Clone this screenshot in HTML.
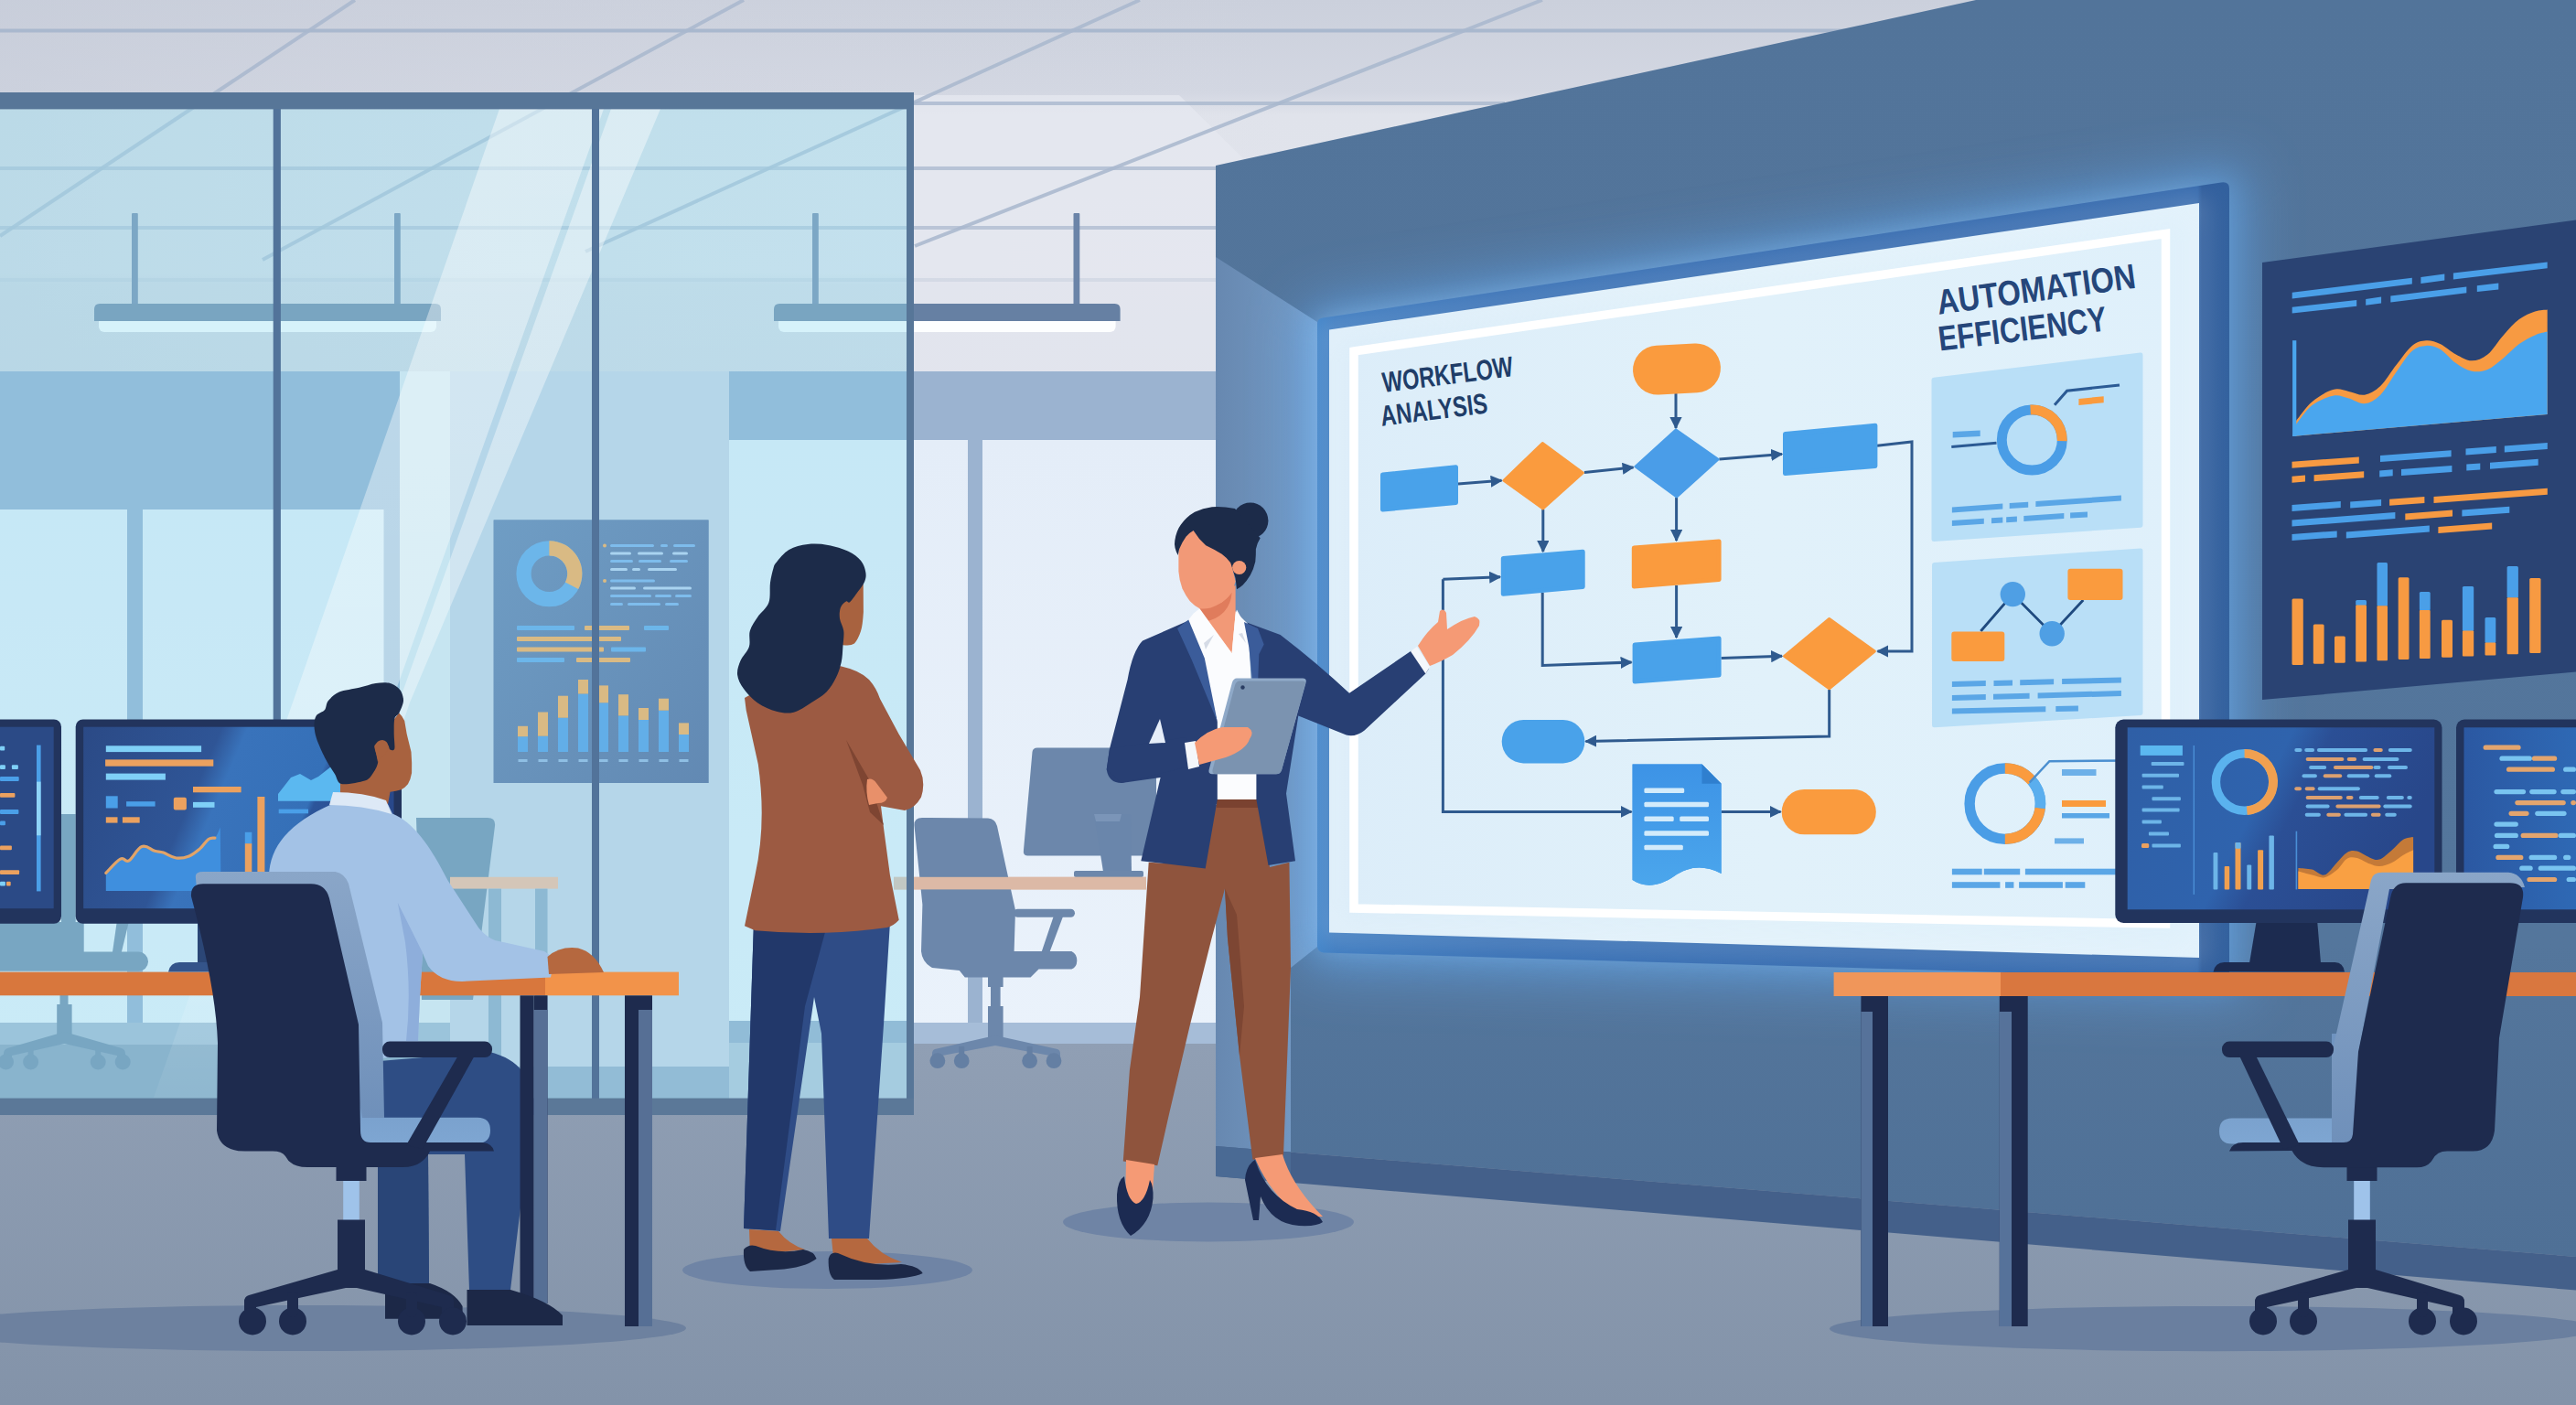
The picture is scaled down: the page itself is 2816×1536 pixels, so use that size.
<!DOCTYPE html>
<html lang="en"><head><meta charset="utf-8"><title>Workflow Analysis - Automation Efficiency</title>
<style>
html,body{margin:0;padding:0;background:#8c9bb1;}
body{width:2816px;height:1536px;overflow:hidden;}
svg{display:block;}
text{font-family:"Liberation Sans",sans-serif;font-weight:bold;}
</style></head><body>
<svg width="2816" height="1536" viewBox="0 0 2816 1536">
<defs>
<linearGradient id="gCeil" x1="0" y1="0" x2="0" y2="1">
<stop offset="0" stop-color="#cbd0dc"/><stop offset="0.24" stop-color="#d3d7e2"/>
<stop offset="0.30" stop-color="#e0e3eb"/><stop offset="0.71" stop-color="#e2e4ed"/><stop offset="0.74" stop-color="#d9dbe6"/><stop offset="1" stop-color="#d6d8e4"/></linearGradient>
<linearGradient id="gCeilX" x1="0" y1="0" x2="1" y2="0">
<stop offset="0" stop-color="#c6ccd9" stop-opacity="0.55"/><stop offset="0.5" stop-color="#d6dae4" stop-opacity="0"/></linearGradient>
<linearGradient id="gFloor" x1="0" y1="0" x2="0" y2="1">
<stop offset="0" stop-color="#909fb4"/><stop offset="1" stop-color="#8393a9"/></linearGradient>
<linearGradient id="gWin" x1="0" y1="0" x2="0" y2="1">
<stop offset="0" stop-color="#e4edf8"/><stop offset="1" stop-color="#eaf2fb"/></linearGradient>
<linearGradient id="gRefl" x1="0" y1="0" x2="0" y2="1">
<stop offset="0" stop-color="#ffffff" stop-opacity="0.42"/><stop offset="0.6" stop-color="#ffffff" stop-opacity="0.36"/><stop offset="1" stop-color="#ffffff" stop-opacity="0.05"/></linearGradient>

<linearGradient id="gPoster" x1="0" y1="0" x2="1" y2="1"><stop offset="0" stop-color="#6f9dc4"/><stop offset="1" stop-color="#6289b3"/></linearGradient>
<linearGradient id="gWall" x1="0" y1="0" x2="0" y2="1">
<stop offset="0" stop-color="#52749a"/><stop offset="0.75" stop-color="#54769c"/><stop offset="1" stop-color="#4f7096"/></linearGradient>
<linearGradient id="gSide" x1="0" y1="0" x2="1" y2="0">
<stop offset="0" stop-color="#6788b0"/><stop offset="0.7" stop-color="#7196c0"/><stop offset="1" stop-color="#7ea6d0"/></linearGradient>
<filter id="blur30" x="-20%" y="-20%" width="140%" height="140%"><feGaussianBlur stdDeviation="30"/></filter>
<filter id="blur14" x="-20%" y="-20%" width="140%" height="140%"><feGaussianBlur stdDeviation="14"/></filter>
<clipPath id="clipWall"><polygon points="1329,181 2160,0 2816,0 2816,1374 1329,1253"/></clipPath>

<linearGradient id="gFrame" x1="0" y1="0" x2="1" y2="0">
<stop offset="0" stop-color="#4486ca"/><stop offset="0.02" stop-color="#3f7cc0"/><stop offset="0.2" stop-color="#3a72b6"/><stop offset="0.6" stop-color="#376cb0"/><stop offset="0.965" stop-color="#366aad"/><stop offset="0.97" stop-color="#2f5d9c"/><stop offset="1" stop-color="#33619e"/></linearGradient>
<linearGradient id="gLit" x1="0" y1="0" x2="1" y2="0">
<stop offset="0" stop-color="#dcedf9"/><stop offset="0.5" stop-color="#e1f1fa"/><stop offset="1" stop-color="#dff0fb"/></linearGradient>
<marker id="ah" viewBox="0 0 10 10" refX="9" refY="5" markerWidth="4.4" markerHeight="4.4" orient="auto-start-reverse" markerUnits="strokeWidth"><path d="M0,0 L10,5 L0,10 z" fill="#2f5a8e"/></marker>
<marker id="ah2" viewBox="0 0 10 10" refX="9" refY="5" markerWidth="6" markerHeight="6" orient="auto-start-reverse" markerUnits="strokeWidth"><path d="M0,0 L10,5 L0,10 z" fill="#2f5a8e"/></marker>

<linearGradient id="gDoc" x1="0" y1="0" x2="0" y2="1"><stop offset="0" stop-color="#3d93e6"/><stop offset="1" stop-color="#4ba6ec"/></linearGradient>
<linearGradient id="gMon" x1="0" y1="0" x2="1" y2="0.25">
<stop offset="0" stop-color="#2b4a86"/><stop offset="0.42" stop-color="#2f5596"/><stop offset="0.5" stop-color="#3973bb"/><stop offset="0.78" stop-color="#3570b8"/><stop offset="0.8" stop-color="#2c559a"/><stop offset="1" stop-color="#29488a"/></linearGradient>
<linearGradient id="gMon3" x1="0" y1="0" x2="1" y2="0.3">
<stop offset="0" stop-color="#2f5fa6"/><stop offset="0.5" stop-color="#2f63ad"/><stop offset="0.62" stop-color="#2b4f95"/><stop offset="1" stop-color="#28478a"/></linearGradient>
<linearGradient id="gMon4" x1="0" y1="0" x2="1" y2="0">
<stop offset="0" stop-color="#2b58a2"/><stop offset="1" stop-color="#2f6cb8"/></linearGradient>
<linearGradient id="gSeat" x1="0" y1="0" x2="0" y2="1">
<stop offset="0" stop-color="#6f93bf"/><stop offset="1" stop-color="#7ea6d2"/></linearGradient>
<linearGradient id="gChairSide" x1="0" y1="0" x2="0" y2="1">
<stop offset="0" stop-color="#8aa6c8"/><stop offset="1" stop-color="#6f90ba"/></linearGradient>

</defs>
<rect x="0" y="0" width="2816" height="420" fill="url(#gCeil)" />
<rect x="0" y="0" width="2816" height="420" fill="url(#gCeilX)" />
<polygon points="999,104 1289,104 1362,176 1329,186 1329,406 999,406" fill="#e6e8f0" opacity="0.75"/>
<line x1="0" y1="33.5" x2="2030" y2="33.5" stroke="#a9b8ce" stroke-width="4" opacity="1"/>
<line x1="999" y1="113" x2="1645" y2="113" stroke="#a9b8ce" stroke-width="4" opacity="0.8"/>
<line x1="0" y1="184" x2="1329" y2="184" stroke="#a9b8ce" stroke-width="4" opacity="0.75"/>
<line x1="0" y1="249" x2="1329" y2="249" stroke="#a9b8ce" stroke-width="4" opacity="0.7"/>
<line x1="0" y1="306" x2="1329" y2="306" stroke="#a9b8ce" stroke-width="4" opacity="0.25"/>
<line x1="388" y1="0" x2="0" y2="258" stroke="#a9b8ce" stroke-width="4" opacity="0.85"/>
<line x1="813" y1="0" x2="287" y2="284" stroke="#a9b8ce" stroke-width="4" opacity="0.85"/>
<line x1="1246" y1="0" x2="640" y2="275" stroke="#a9b8ce" stroke-width="4" opacity="0.85"/>
<line x1="1686" y1="0" x2="1000" y2="269" stroke="#a9b8ce" stroke-width="4" opacity="0.85"/>
<rect x="0" y="406" width="1329" height="735" fill="#c9d2e4" />
<rect x="0" y="406" width="437" height="735" fill="#8da8cd" />
<rect x="437" y="406" width="55" height="735" fill="#e3e8f0" />
<rect x="492" y="406" width="305" height="735" fill="#c7d0e3" />
<rect x="797" y="406" width="532" height="75" fill="#9bb3d0" />
<rect x="797" y="406" width="198" height="75" fill="#8da8cd" />
<rect x="0" y="557" width="139" height="584" fill="url(#gWin)" />
<rect x="156" y="557" width="263.5" height="584" fill="url(#gWin)" />
<rect x="797" y="481" width="261" height="660" fill="url(#gWin)" />
<rect x="1058" y="481" width="16" height="660" fill="#9bb3d0" />
<rect x="1074" y="481" width="255" height="660" fill="url(#gWin)" />
<rect x="0" y="1118" width="1329" height="23" fill="#a6bdd8" />
<rect x="0" y="1141" width="2816" height="395" fill="url(#gFloor)" />
<rect x="0" y="1118" width="991" height="24" fill="#9eb3cc" />
<rect x="0" y="1142" width="991" height="59" fill="#8098b6" />
<rect x="492" y="1110" width="305" height="56" fill="#c7d0e3" />
<rect x="492" y="1166" width="305" height="35" fill="#8fa6c4" />
<rect x="797" y="1116" width="194" height="24" fill="#8da6c6" />
<rect x="797" y="1140" width="194" height="61" fill="#aebfd4" />
<rect x="67" y="890" width="15.7" height="122" fill="#6482a4" />
<rect x="-5" y="1008" width="96.7" height="34" fill="#6482a4" />
<rect x="-12" y="1040.6" width="174" height="21.2" rx="10.5" fill="#6482a4" />
<polygon points="127.7,1008 140.8,1008 132.6,1042 122.8,1042" fill="#6482a4" />
<rect x="65.5" y="1088" width="9" height="11" fill="#6482a4" />
<rect x="62.2" y="1098" width="16.4" height="39" fill="#6482a4" />
<path d="M70.4,1128 L8,1146 Q4,1147.5 4,1152 L4,1158 L13,1158 L13,1154 L70.4,1141 L128,1154 L128,1158 L137,1158 L137,1152 Q137,1147.5 133,1146 Z" fill="#6482a4" />
<circle cx="6.5" cy="1160.9" r="8.5" fill="#6482a4" />
<circle cx="33.6" cy="1160.9" r="8.5" fill="#6482a4" />
<circle cx="107.2" cy="1160.9" r="8.5" fill="#6482a4" />
<circle cx="134.2" cy="1160.9" r="8.5" fill="#6482a4" />
<rect x="30.6" y="1145" width="6" height="14" fill="#6482a4" />
<rect x="104.2" y="1145" width="6" height="14" fill="#6482a4" />
<path d="M455,894 h78 q9,0 8,9 l-24,190 h-56 z" fill="#6482a4" />
<rect x="492" y="958.8" width="118" height="12.8" fill="#fbb693" />
<rect x="534" y="971.6" width="14" height="228.4" fill="#86a0c0" />
<rect x="585" y="971.6" width="13.5" height="228.4" fill="#86a0c0" />
<path d="M1131,817.4 L1264,817.4 L1264,935.5 L1123,935.5 Q1118,935 1119,929 L1128.5,822 Q1129,817.4 1134,817.4 Z" fill="#6c87ab" />
<polygon points="1196,890 1236,890 1237,953 1206,953" fill="#6a86ab" />
<polygon points="1196,890 1226,890 1224,898 1198,898" fill="#7b95b8" />
<rect x="1174" y="952" width="76" height="7" rx="2" fill="#6c87ab" />
<rect x="977" y="958.8" width="276" height="13.6" fill="#dcb9a6" />
<path d="M999.4,902 Q999.4,894 1008,894 L1080,894.5 Q1088,895 1090,903 L1099.6,947.4 L1110,995 L1108.6,1040 L1171.4,1040 Q1177.5,1043 1177.3,1050.6 Q1177,1058 1171.4,1059.6 L1135.5,1059.6 L1126.5,1068.5 L1054.8,1068.5 L1048.8,1061 L1019,1058 Q1008,1052 1007,1040 L1008.4,989 Z" fill="#6c87ab" />
<rect x="1108" y="993.8" width="67" height="9" rx="4.5" fill="#6c87ab" />
<polygon points="1152,1001 1162.4,1001 1147.4,1041 1138.5,1041" fill="#6c87ab" />
<rect x="1080" y="1068" width="16.6" height="11" fill="#6c87ab" />
<rect x="1083" y="1079" width="10.6" height="21" fill="#6c87ab" />
<rect x="1080" y="1100" width="16.6" height="41" fill="#6c87ab" />
<path d="M1088,1132 L1022,1147 Q1019,1148 1019,1152 L1019,1158 L1030,1158 L1030,1154 L1088,1143 L1148,1154 L1148,1158 L1159,1158 L1159,1152 Q1159,1148 1156,1147 Z" fill="#6c87ab" />
<circle cx="1024.9" cy="1159.7" r="8.4" fill="#647fa3" />
<circle cx="1051.2" cy="1159.7" r="8.4" fill="#647fa3" />
<circle cx="1125.6" cy="1159.7" r="8.4" fill="#647fa3" />
<circle cx="1152" cy="1159.7" r="8.4" fill="#647fa3" />
<rect x="1048.2" y="1144" width="6" height="14" fill="#647fa3" />
<rect x="1122.6" y="1144" width="6" height="14" fill="#647fa3" />
<rect x="977" y="958.8" width="276" height="13.6" fill="#dcb9a6" />
<rect x="144" y="233" width="6.8" height="101" rx="1" fill="#6b84a8" />
<rect x="431" y="233" width="6.8" height="101" rx="1" fill="#6b84a8" />
<rect x="108" y="345" width="369" height="18" rx="6" fill="#fdfeff" />
<path d="M103,351 v-13 q0,-6 6,-6 h367 q6,0 6,6 v13 z" fill="#6680a3" />
<rect x="888" y="233" width="6.8" height="101" rx="1" fill="#6b84a8" />
<rect x="1173.5" y="233" width="6.8" height="101" rx="1" fill="#6b84a8" />
<rect x="851" y="345" width="368.6" height="18" rx="6" fill="#fdfeff" />
<path d="M846,351 v-13 q0,-6 6,-6 h366.6 q6,0 6,6 v13 z" fill="#6680a3" />
<rect x="0" y="110" width="995" height="1100" fill="rgb(153,223,243)" opacity="0.39"/>
<rect x="539.7" y="568.5" width="234.8" height="287.5" fill="#6b96bd" />
<rect x="539.7" y="568.5" width="234.8" height="287.5" fill="url(#gPoster)" />
<circle cx="600.4" cy="627.2" r="27.9" fill="none" stroke="#6cb6ea" stroke-width="16.2" />
<path d="M600.4,591.2 A36,36 0 0 1 632.2,644.1 L617.9,636.5 A19.8,19.8 0 0 0 600.4,607.4 Z" fill="#d9ba84" />
<rect x="667" y="595" width="48" height="3" rx="1.5" fill="#7ebcec" />
<rect x="722" y="595" width="8" height="3" rx="1.5" fill="#7ebcec" />
<rect x="736" y="595" width="24" height="3" rx="1.5" fill="#7ebcec" />
<rect x="667" y="603.5" width="23" height="3" rx="1.5" fill="#a9d3f0" />
<rect x="697" y="603.5" width="28" height="3" rx="1.5" fill="#a9d3f0" />
<rect x="735" y="603.5" width="17" height="3" rx="1.5" fill="#a9d3f0" />
<rect x="667" y="612" width="25" height="3" rx="1.5" fill="#7ebcec" />
<rect x="698" y="612" width="25" height="3" rx="1.5" fill="#7ebcec" />
<rect x="732" y="612" width="20" height="3" rx="1.5" fill="#7ebcec" />
<rect x="667" y="621" width="19" height="3" rx="1.5" fill="#a9d3f0" />
<rect x="691" y="621" width="9" height="3" rx="1.5" fill="#a9d3f0" />
<rect x="708" y="621" width="32" height="3" rx="1.5" fill="#a9d3f0" />
<rect x="667" y="633.5" width="49" height="3" rx="1.5" fill="#7ebcec" />
<rect x="667" y="641.5" width="28" height="3" rx="1.5" fill="#a9d3f0" />
<rect x="703" y="641.5" width="53" height="3" rx="1.5" fill="#a9d3f0" />
<rect x="667" y="650" width="45" height="3" rx="1.5" fill="#7ebcec" />
<rect x="716" y="650" width="18" height="3" rx="1.5" fill="#7ebcec" />
<rect x="738" y="650" width="18" height="3" rx="1.5" fill="#7ebcec" />
<rect x="667" y="659" width="14" height="3" rx="1.5" fill="#7ebcec" />
<rect x="686" y="659" width="36" height="3" rx="1.5" fill="#7ebcec" />
<rect x="727" y="659" width="15" height="3" rx="1.5" fill="#7ebcec" />
<circle cx="661" cy="596.5" r="2" fill="#d9ba84" />
<circle cx="661" cy="635" r="2" fill="#d9ba84" />
<rect x="565" y="684" width="63" height="5" rx="1" fill="#6cb6ea" />
<rect x="639" y="684" width="49" height="5" rx="1" fill="#d9ba84" />
<rect x="704" y="684" width="27" height="5" rx="1" fill="#6cb6ea" />
<rect x="565" y="696" width="114" height="5" rx="1" fill="#d9ba84" />
<rect x="565" y="707.5" width="95" height="5" rx="1" fill="#d9ba84" />
<rect x="668" y="707.5" width="38" height="5" rx="1" fill="#6cb6ea" />
<rect x="565" y="719" width="52" height="5" rx="1" fill="#6cb6ea" />
<rect x="630" y="719" width="59" height="5" rx="1" fill="#d9ba84" />
<rect x="566" y="805.2" width="11" height="16.8" fill="#62aee8" />
<rect x="566" y="793.8" width="11" height="11.4" fill="#d9ba84" />
<rect x="566.5" y="830" width="10" height="3" fill="#8fbfe4" />
<rect x="588" y="804.7" width="11" height="17.3" fill="#62aee8" />
<rect x="588" y="778.5" width="11" height="26.2" fill="#d9ba84" />
<rect x="588.5" y="830" width="10" height="3" fill="#8fbfe4" />
<rect x="610" y="784.7" width="11" height="37.3" fill="#62aee8" />
<rect x="610" y="760.7" width="11" height="24" fill="#d9ba84" />
<rect x="610.5" y="830" width="10" height="3" fill="#8fbfe4" />
<rect x="632" y="758.5" width="11" height="63.5" fill="#62aee8" />
<rect x="632" y="743" width="11" height="15.5" fill="#d9ba84" />
<rect x="632.5" y="830" width="10" height="3" fill="#8fbfe4" />
<rect x="654" y="768.3" width="11" height="53.7" fill="#62aee8" />
<rect x="654" y="749.4" width="11" height="18.9" fill="#d9ba84" />
<rect x="654.5" y="830" width="10" height="3" fill="#8fbfe4" />
<rect x="676" y="782.4" width="11" height="39.6" fill="#62aee8" />
<rect x="676" y="759.2" width="11" height="23.2" fill="#d9ba84" />
<rect x="676.5" y="830" width="10" height="3" fill="#8fbfe4" />
<rect x="698" y="787" width="11" height="35" fill="#62aee8" />
<rect x="698" y="774" width="11" height="13" fill="#d9ba84" />
<rect x="698.5" y="830" width="10" height="3" fill="#8fbfe4" />
<rect x="720" y="776.7" width="11" height="45.3" fill="#62aee8" />
<rect x="720" y="763.7" width="11" height="13" fill="#d9ba84" />
<rect x="720.5" y="830" width="10" height="3" fill="#8fbfe4" />
<rect x="742" y="803" width="11" height="19" fill="#62aee8" />
<rect x="742" y="790.4" width="11" height="12.6" fill="#d9ba84" />
<rect x="742.5" y="830" width="10" height="3" fill="#8fbfe4" />
<polygon points="546,119 660,119 428,768 276,1200 168,1200 320,768" fill="url(#gRefl)" />
<polygon points="668,119 722,119 448,768 300,1200 286,1200 436,768" fill="url(#gRefl)" />
<rect x="0" y="101" width="999" height="18.4" fill="#577698" />
<rect x="298.7" y="119" width="8.2" height="1082" fill="#52739a" />
<rect x="647" y="119" width="8" height="1082" fill="#52739a" />
<rect x="991" y="101" width="8" height="1118" fill="#577698" />
<rect x="0" y="1200.6" width="999" height="18.4" fill="#5b7898" />
<polygon points="1329,181 2160,0 2816,0 2816,1374 1329,1253" fill="url(#gWall)" />
<g clip-path="url(#clipWall)">
<polygon points="1329,281 1440,352 1440,1035 1411,1058 1411,1262 1329,1256" fill="url(#gSide)" />
<polygon points="1425,335 2455,180 2455,1090 1425,1060" fill="#5f9fe0" filter="url(#blur30)" opacity="0.7"/>
<polygon points="1436,345 2443,193 2443,1076 1436,1046" fill="#6eb0ee" filter="url(#blur14)" opacity="0.3"/>
</g>
<polygon points="1329,1253 2816,1374 2816,1410.5 1329,1286" fill="#44608a" />
<polygon points="1329,1253 1411,1259.5 1411,1293 1329,1286" fill="#4a6a94" />
<polygon points="2473,287 2816,240.5 2816,734.6 2473,765" fill="#2a4373" />
<polygon points="2505.7,319.8 2636.8,303.8 2636.8,310.6 2505.7,326.6" fill="#4a9fe8" />
<polygon points="2646.4,303.1 2672.3,299.6 2672.3,306.4 2646.4,309.9" fill="#4a9fe8" />
<polygon points="2681.9,298.6 2784.7,286.5 2784.7,293.3 2681.9,305.4" fill="#4a9fe8" />
<polygon points="2505.7,335.7 2576.2,328 2576.2,334.8 2505.7,342.5" fill="#4a9fe8" />
<polygon points="2586.2,326.9 2603.1,324.6 2603.1,331.4 2586.2,333.7" fill="#4a9fe8" />
<polygon points="2613.3,323.6 2696.3,313.4 2696.3,320.2 2613.3,330.4" fill="#4a9fe8" />
<polygon points="2707.8,312.3 2731.3,309.6 2731.3,316.4 2707.8,319.1" fill="#4a9fe8" />
<path d="M2510.3,459.6C2513.2,456.2 2520.6,445 2527.2,439.4C2533.9,433.8 2543.6,427.9 2550.3,426C2557,424 2561.8,426.9 2567.6,427.9C2573.4,428.8 2579.1,432.7 2584.9,431.7C2590.6,430.8 2596.4,427.6 2602.2,422.1C2607.9,416.7 2613.7,406.4 2619.5,399.1C2625.2,391.7 2631.3,382.4 2636.8,377.9C2642.2,373.4 2647,372.5 2652.1,372.2C2657.2,371.8 2662,373.4 2667.5,376C2672.9,378.6 2679,384.5 2684.8,387.5C2690.5,390.6 2696.3,394.3 2702.1,394.3C2707.8,394.3 2713.6,392.2 2719.4,387.5C2725.1,382.9 2730.9,372.8 2736.7,366.4C2742.4,360 2748.2,353.4 2753.9,349.1C2759.7,344.8 2766.1,342.2 2771.2,340.5C2776.4,338.7 2782.4,338.9 2784.7,338.5 L2784.7,452.9 L2506.1,476.9 Z" fill="#f79a42" />
<path d="M2510.3,463.4C2513.2,460.1 2520.6,448.4 2527.2,443.3C2533.9,438.1 2543.6,434 2550.3,432.7C2557,431.4 2561.8,434.1 2567.6,435.6C2573.4,437 2579.1,442 2584.9,441.3C2590.6,440.7 2596.4,437.5 2602.2,431.7C2607.9,426 2613.7,414.8 2619.5,406.8C2625.2,398.7 2631.3,388.5 2636.8,383.7C2642.2,378.9 2647,378.3 2652.1,377.9C2657.2,377.6 2662,378.6 2667.5,381.8C2672.9,385 2679,393.1 2684.8,397.1C2690.5,401.1 2696.3,404.7 2702.1,405.8C2707.8,406.9 2713.6,406.3 2719.4,403.9C2725.1,401.5 2730.9,396 2736.7,391.4C2742.4,386.7 2748.2,380.2 2753.9,376C2759.7,371.8 2766.1,368.6 2771.2,366.4C2776.4,364.2 2782.4,363.2 2784.7,362.6 L2784.7,452.9 L2506.1,476.9 Z" fill="#4aa6ee" />
<rect x="2506.1" y="372.2" width="4.2" height="104.7" fill="#4aa6ee" />
<polygon points="2505.5,504.8 2578.8,499.4 2578.8,506.4 2505.5,511.8" fill="#f79a42" />
<polygon points="2602,498 2679.6,492.2 2679.6,499.2 2602,505" fill="#4a9fe8" />
<polygon points="2695.5,490.6 2728.8,488.1 2728.8,495.1 2695.5,497.6" fill="#4a9fe8" />
<polygon points="2737.8,487.6 2784.8,484.1 2784.8,491.1 2737.8,494.6" fill="#4a9fe8" />
<polygon points="2505.5,520.7 2520,519.6 2520,526.6 2505.5,527.7" fill="#f79a42" />
<polygon points="2529.6,519.3 2584.2,515.2 2584.2,522.2 2529.6,526.3" fill="#f79a42" />
<polygon points="2601.2,514.4 2615.7,513.3 2615.7,520.3 2601.2,521.4" fill="#4a9fe8" />
<polygon points="2625,513 2680.4,508.9 2680.4,515.9 2625,520" fill="#4a9fe8" />
<polygon points="2696.3,507.6 2711.3,506.5 2711.3,513.5 2696.3,514.6" fill="#4a9fe8" />
<polygon points="2722,505.7 2774.7,501.7 2774.7,508.7 2722,512.7" fill="#4a9fe8" />
<polygon points="2505.5,552.1 2558.8,548.1 2558.8,555.1 2505.5,559.1" fill="#4a9fe8" />
<polygon points="2569.2,548.6 2603.1,546 2603.1,553 2569.2,555.6" fill="#4a9fe8" />
<polygon points="2612.1,545.8 2650.4,543 2650.4,550 2612.1,552.8" fill="#f79a42" />
<polygon points="2660.5,543.1 2784.8,533.8 2784.8,540.8 2660.5,550.1" fill="#f79a42" />
<polygon points="2505.5,568.5 2618.4,560.1 2618.4,567.1 2505.5,575.5" fill="#4a9fe8" />
<polygon points="2629.3,561.4 2681,557.5 2681,564.5 2629.3,568.4" fill="#f79a42" />
<polygon points="2691.4,557.6 2743.3,553.7 2743.3,560.7 2691.4,564.6" fill="#4a9fe8" />
<polygon points="2505.5,584.1 2554.7,580.4 2554.7,587.4 2505.5,591.1" fill="#4a9fe8" />
<polygon points="2564.8,581.4 2655.8,574.5 2655.8,581.5 2564.8,588.4" fill="#4a9fe8" />
<polygon points="2665.4,575.9 2724.2,571.5 2724.2,578.5 2665.4,582.9" fill="#f79a42" />
<rect x="2505.5" y="654.6" width="12.3" height="72.4" rx="1.5" fill="#f79a42" />
<rect x="2528.8" y="682.4" width="11.8" height="43.4" rx="1.5" fill="#f79a42" />
<rect x="2552" y="695.6" width="11.8" height="29.1" rx="1.5" fill="#f79a42" />
<rect x="2575.2" y="655.9" width="11.8" height="6" rx="1.5" fill="#4a9fe8" />
<rect x="2575.2" y="661.4" width="11.8" height="62.1" rx="1" fill="#f79a42" />
<rect x="2598.5" y="614.9" width="11.5" height="47.8" rx="1.5" fill="#4a9fe8" />
<rect x="2598.5" y="662.2" width="11.5" height="60.1" rx="1" fill="#f79a42" />
<rect x="2621.7" y="631.3" width="11.8" height="89.8" rx="1.5" fill="#f79a42" />
<rect x="2644.9" y="646.9" width="11.8" height="20.5" rx="1.5" fill="#4a9fe8" />
<rect x="2644.9" y="666.9" width="11.8" height="53.2" rx="1" fill="#f79a42" />
<rect x="2669" y="677.8" width="12" height="41" rx="1.5" fill="#f79a42" />
<rect x="2691.9" y="640.9" width="12.3" height="49.1" rx="1.5" fill="#4a9fe8" />
<rect x="2691.9" y="689.5" width="12.3" height="28.1" rx="1" fill="#f79a42" />
<rect x="2716.5" y="675.1" width="11.8" height="27.8" rx="1.5" fill="#4a9fe8" />
<rect x="2716.5" y="702.4" width="11.8" height="14" rx="1" fill="#f79a42" />
<rect x="2740.6" y="619" width="12.3" height="34.7" rx="1.5" fill="#4a9fe8" />
<rect x="2740.6" y="653.2" width="12.3" height="62" rx="1" fill="#f79a42" />
<rect x="2765.2" y="632.1" width="12.3" height="81.9" rx="1.5" fill="#f79a42" />
<path d="M1440,354 Q1440,348.5 1446,347.6 L2428,199.4 Q2437,198 2437,206 L2437,1070 L1447,1041.4 Q1440,1041 1440,1034 Z" fill="url(#gFrame)" />
<polygon points="1453,360.5 2404,222 2404,1047 1453,1019.4" fill="url(#gLit)" />
<polygon points="1453,360.5 2404,222 2404,1047 1453,1019.4" fill="none" stroke="#ffffff" stroke-width="10" opacity="0.35" filter="url(#blur14)"/>
<polygon points="1480,384 2367.5,255.5 2367.5,1010 1480,993" fill="none" stroke="#ffffff" stroke-width="9.5" stroke-linejoin="miter"/>
<text transform="translate(1512.5,429) rotate(-7.16) scale(0.752,1)" font-size="31.3" fill="#203d68">WORKFLOW</text>
<text transform="translate(1510.5,465.7) rotate(-7.0) scale(0.757,1)" font-size="31.3" fill="#203d68">ANALYSIS</text>
<text transform="translate(2119.2,343.8) rotate(-7.67) scale(0.857,1)" font-size="38.2" fill="#25467a">AUTOMATION</text>
<text transform="translate(2120.5,383.5) rotate(-6.9) scale(0.815,1)" font-size="38.2" fill="#25467a">EFFICIENCY</text>
<polyline points="1832,429 1832,468" fill="none" stroke="#2f5a8e" stroke-width="3" marker-end="url(#ah)"/>
<polyline points="1594,529 1641.5,525.3" fill="none" stroke="#2f5a8e" stroke-width="3" marker-end="url(#ah)"/>
<polyline points="1732,516.5 1785.5,511" fill="none" stroke="#2f5a8e" stroke-width="3" marker-end="url(#ah)"/>
<polyline points="1879.4,502 1948,496.4" fill="none" stroke="#2f5a8e" stroke-width="3" marker-end="url(#ah)"/>
<polyline points="1686.8,557 1686.8,603" fill="none" stroke="#2f5a8e" stroke-width="3" marker-end="url(#ah)"/>
<polyline points="1832.6,544 1832.6,591" fill="none" stroke="#2f5a8e" stroke-width="3" marker-end="url(#ah)"/>
<polyline points="1832.6,640 1832.6,697" fill="none" stroke="#2f5a8e" stroke-width="3" marker-end="url(#ah)"/>
<polyline points="2052,487.3 2090,483 2090,712 2052.5,712" fill="none" stroke="#2f5a8e" stroke-width="3" marker-end="url(#ah)"/>
<polyline points="1686.2,648 1686.2,727.5 1783.5,724" fill="none" stroke="#2f5a8e" stroke-width="3" marker-end="url(#ah)"/>
<polyline points="1881.6,719.6 1948,717.2" fill="none" stroke="#2f5a8e" stroke-width="3" marker-end="url(#ah)"/>
<polyline points="1999.7,754 1999.7,805 1733.5,810.4" fill="none" stroke="#2f5a8e" stroke-width="3" marker-end="url(#ah)"/>
<polyline points="1577.4,633.2 1640,630.8" fill="none" stroke="#2f5a8e" stroke-width="3" marker-end="url(#ah)"/>
<polyline points="1577.4,633.2 1577.4,887.4 1783.5,887.4" fill="none" stroke="#2f5a8e" stroke-width="3" marker-end="url(#ah)"/>
<polyline points="1881.6,887.4 1946.5,887.4" fill="none" stroke="#2f5a8e" stroke-width="3" marker-end="url(#ah)"/>
<rect x="1785" y="376.5" width="96" height="54" rx="27" fill="#fa9b3e" transform="rotate(-3 1833 403.5)"/>
<polygon points="1832,470 1878,502.2 1833,543 1788,510" fill="#4a9de8" stroke="#4a9de8" stroke-width="3" stroke-linejoin="round"/>
<polygon points="1686.2,484.5 1730.3,517 1686.8,556 1644,525.3" fill="#fa9b3e" stroke="#fa9b3e" stroke-width="3" stroke-linejoin="round"/>
<polygon points="1999.7,676.5 2049.3,712 1999.7,752.8 1950.5,717.4" fill="#fa9b3e" stroke="#fa9b3e" stroke-width="3" stroke-linejoin="round"/>
<polygon points="1511.5,519 1591.5,510.8 1591.5,549.5 1511.5,557" fill="#49a2ea" stroke="#49a2ea" stroke-width="5" stroke-linejoin="round"/>
<polygon points="1951.5,474.5 2049.9,465.2 2049.9,509.5 1951.5,517.5" fill="#49a2ea" stroke="#49a2ea" stroke-width="5" stroke-linejoin="round"/>
<polygon points="1643.3,610.5 1730.2,603.2 1730.2,641.5 1643.3,649.3" fill="#49a2ea" stroke="#49a2ea" stroke-width="5" stroke-linejoin="round"/>
<polygon points="1786.3,599.1 1879.1,592 1879.1,633.5 1786.3,641.1" fill="#fa9b3e" stroke="#fa9b3e" stroke-width="5" stroke-linejoin="round"/>
<polygon points="1787.1,704.9 1879.1,698 1879.1,738.1 1787.1,745" fill="#49a2ea" stroke="#49a2ea" stroke-width="5" stroke-linejoin="round"/>
<rect x="1641.7" y="787" width="90.7" height="47.4" rx="23.7" fill="#49a2ea" />
<rect x="1947.7" y="863" width="103.1" height="49.3" rx="24.6" fill="#fa9b3e" />
<path d="M1784.6,835.5 H1860.5 L1881.6,856.8 V955 C1862,945 1846,947 1830,958 C1814,969 1798,971 1784.6,962 Z" fill="#3f9be9" />
<path d="M1784.6,835.5 H1860.5 L1881.6,856.8 V955 C1862,945 1846,947 1830,958 C1814,969 1798,971 1784.6,962 Z" fill="url(#gDoc)" />
<polygon points="1860.5,835.5 1881.6,856.8 1860.5,856.8" fill="#2f7fcf" />
<rect x="1797.4" y="861.4" width="43.8" height="5.6" rx="1.5" fill="#d3ebfb" />
<rect x="1797.4" y="876.7" width="70.6" height="5.6" rx="1.5" fill="#d3ebfb" />
<rect x="1797.4" y="892.5" width="32.3" height="5.6" rx="1.5" fill="#d3ebfb" />
<rect x="1836.2" y="892.5" width="31.8" height="5.6" rx="1.5" fill="#d3ebfb" />
<rect x="1797.4" y="908.2" width="70.6" height="5.6" rx="1.5" fill="#d3ebfb" />
<rect x="1797.4" y="923.7" width="42.4" height="5.6" rx="1.5" fill="#d3ebfb" />
<polygon points="2114,415.2 2340,388.1 2340,574.2 2114,589.5" fill="#b9dff7" stroke="#b9dff7" stroke-width="5" stroke-linejoin="round"/>
<polygon points="2114.5,617.5 2340,601.9 2340,779.5 2114.5,792.8" fill="#b9dff7" stroke="#b9dff7" stroke-width="5" stroke-linejoin="round"/>
<circle cx="2221.3" cy="481" r="33" fill="none" stroke="#4a9de6" stroke-width="10.9" />
<path d="M2219.3,442.6 A38.5,38.5 0 0 1 2259.8,482.3 L2248.9,482 A27.6,27.6 0 0 0 2219.9,453.4 Z" fill="#fa9b3e" />
<polyline points="2246,442.8 2259.6,427.2 2317,421" fill="none" stroke="#2b5a94" stroke-width="3" />
<polygon points="2272.4,436 2299.7,433.2 2299.7,440.2 2272.4,443" fill="#fa9b3e" />
<polygon points="2134.7,472 2164.7,470.4 2164.7,477 2134.7,478.6" fill="#5aa6e6" />
<polyline points="2133.3,488.4 2182.5,484.3" fill="none" stroke="#2b5a94" stroke-width="3" />
<polygon points="2133.9,554.5 2189.3,550.6 2189.3,556.6 2133.9,560.5" fill="#5aa6e6" />
<polygon points="2196.7,550.1 2217.2,548.7 2217.2,554.7 2196.7,556.1" fill="#5aa6e6" />
<polygon points="2225.4,548.1 2318.9,541.5 2318.9,547.5 2225.4,554.1" fill="#5aa6e6" />
<polygon points="2133.9,569 2168.8,566.7 2168.8,572.7 2133.9,575" fill="#5aa6e6" />
<polygon points="2177,566.2 2189.3,565.4 2189.3,571.4 2177,572.2" fill="#5aa6e6" />
<polygon points="2193.2,565.2 2204.9,564.4 2204.9,570.4 2193.2,571.2" fill="#5aa6e6" />
<polygon points="2212.3,563.9 2256.3,561.1 2256.3,567.1 2212.3,569.9" fill="#5aa6e6" />
<polygon points="2263.1,560.6 2282,559.4 2282,565.4 2263.1,566.6" fill="#5aa6e6" />
<polyline points="2165.3,690 2200.3,649.6 2243.2,692.8 2277.3,656" fill="none" stroke="#1f4a7f" stroke-width="2.8" />
<circle cx="2200.3" cy="649.6" r="13.7" fill="#4f9fe4" />
<circle cx="2243.2" cy="692.8" r="13.7" fill="#4f9fe4" />
<rect x="2260.4" y="621.8" width="60.1" height="34.2" rx="3" fill="#fa9b3e" />
<rect x="2133.3" y="690.6" width="58" height="32.3" rx="3" fill="#fa9b3e" />
<polygon points="2133.9,745 2170.8,744.1 2170.8,750.1 2133.9,751" fill="#5aa6e6" />
<polygon points="2179.5,743.9 2200,743.4 2200,749.4 2179.5,749.9" fill="#5aa6e6" />
<polygon points="2208.2,743.2 2245.1,742.3 2245.1,748.3 2208.2,749.2" fill="#5aa6e6" />
<polygon points="2254.1,742.1 2318.9,740.5 2318.9,746.5 2254.1,748.1" fill="#5aa6e6" />
<polygon points="2133.9,760 2170.8,759 2170.8,765 2133.9,766" fill="#5aa6e6" />
<polygon points="2179,758.8 2218.6,757.7 2218.6,763.7 2179,764.8" fill="#5aa6e6" />
<polygon points="2227.6,757.5 2318.9,755 2318.9,761 2227.6,763.5" fill="#5aa6e6" />
<polygon points="2133.9,774.5 2236.3,772.3 2236.3,778.3 2133.9,780.5" fill="#5aa6e6" />
<polygon points="2247.3,772.1 2271.9,771.5 2271.9,777.5 2247.3,778.1" fill="#5aa6e6" />
<circle cx="2191.8" cy="878.7" r="38.7" fill="none" stroke="#4a9de6" stroke-width="11.4" />
<path d="M2191.8,834.3 A44.4,44.4 0 0 1 2225.8,850.2 L2217.1,857.5 A33,33 0 0 0 2191.8,845.7 Z" fill="#fa9b3e" />
<path d="M2235.9,884.1 A44.4,44.4 0 0 1 2191.8,923.1 L2191.8,911.7 A33,33 0 0 0 2224.6,882.7 Z" fill="#fa9b3e" />
<path d="M2225.8,850.2 A44.4,44.4 0 0 1 2235.9,884.1 L2224.6,882.7 A33,33 0 0 0 2217.1,857.5 Z" fill="#5aaeee" />
<polyline points="2218.6,855.5 2240.4,832.2 2330,831.4" fill="none" stroke="#4b8fd0" stroke-width="2.5" />
<rect x="2254" y="841" width="37.5" height="7" fill="#6db0e8" />
<rect x="2254" y="875" width="48" height="7" fill="#fa9b3e" />
<rect x="2254" y="889" width="52" height="5.5" fill="#5aa6e6" />
<rect x="2246" y="916.4" width="32" height="6" fill="#6db0e8" />
<rect x="2133.9" y="949.7" width="32.8" height="6.6" fill="#5aa6e6" />
<rect x="2168.8" y="949.7" width="39.4" height="6.6" fill="#5aa6e6" />
<rect x="2213.9" y="949.7" width="116.7" height="6.6" fill="#5aa6e6" />
<rect x="2133.9" y="964.2" width="52.5" height="6.6" fill="#5aa6e6" />
<rect x="2192.1" y="964.2" width="9.3" height="6.6" fill="#5aa6e6" />
<rect x="2207.1" y="964.2" width="47.8" height="6.6" fill="#5aa6e6" />
<rect x="2257.7" y="964.2" width="21.6" height="6.6" fill="#5aa6e6" />
<ellipse cx="330" cy="1452" rx="420" ry="25" fill="#6d819f" />
<ellipse cx="904.5" cy="1388.5" rx="158.5" ry="20.5" fill="#6f84a5" />
<ellipse cx="1321" cy="1336" rx="159" ry="21.5" fill="#6f84a5" />
<ellipse cx="2420" cy="1452.6" rx="420" ry="24.6" fill="#6a7f9f" />
<rect x="0" y="1062.6" width="596" height="25.7" fill="#d8773d" />
<rect x="596" y="1062.6" width="146" height="25.7" fill="#f2934a" />
<rect x="216" y="1009" width="15.4" height="45" fill="#2b4676" />
<path d="M184,1062.6 q2,-10.6 12,-10.6 h36 v10.6 z" fill="#34548a" />
<rect x="-20" y="786.5" width="87" height="223.3" rx="8" fill="#22345d" />
<rect x="-20" y="794.7" width="78.7" height="198.5" fill="#2b4a86" />
<rect x="40" y="814.6" width="4.6" height="159.8" fill="#4a9fe8" />
<rect x="40" y="854.6" width="4.6" height="58.7" fill="#8fd4f7" />
<rect x="0" y="815.8" width="5.2" height="4.8" rx="1" fill="#7fd0f7" />
<rect x="0" y="836.2" width="5.9" height="4.8" rx="1" fill="#7fd0f7" />
<rect x="12.9" y="836.2" width="7" height="4.8" rx="1" fill="#7fd0f7" />
<rect x="0" y="849.1" width="20.7" height="4.8" rx="1" fill="#4a9fe8" />
<rect x="0" y="867" width="16.4" height="4.8" rx="1" fill="#eba15f" />
<rect x="0" y="885.1" width="20.4" height="4.8" rx="1" fill="#4a9fe8" />
<rect x="0" y="897.5" width="5.9" height="4.8" rx="1" fill="#4a9fe8" />
<rect x="0" y="924.5" width="12.9" height="4.8" rx="1" fill="#eba15f" />
<rect x="0" y="951.3" width="21.1" height="4.8" rx="1" fill="#eba15f" />
<rect x="0" y="963.8" width="5.9" height="4.8" rx="1" fill="#7fd0f7" />
<rect x="7" y="963.8" width="4.7" height="4.8" rx="1" fill="#eba15f" />
<rect x="82.7" y="786.5" width="356.3" height="223.3" rx="8" fill="#22345d" />
<rect x="91.2" y="794.7" width="339.3" height="198.5" fill="url(#gMon)" />
<rect x="115.8" y="815.3" width="104.3" height="6.8" fill="#7fd0f7" />
<rect x="115.1" y="830.4" width="118.2" height="7.3" fill="#eba15f" />
<rect x="115.8" y="845.6" width="65.1" height="7" fill="#7fd0f7" />
<rect x="211" y="860" width="52.6" height="6.3" fill="#eba15f" />
<rect x="115.8" y="870.3" width="12.9" height="13.2" fill="#4a9fe8" />
<rect x="138.1" y="876.2" width="31.5" height="5.4" fill="#4a9fe8" />
<rect x="189.8" y="871.7" width="14.1" height="13.9" rx="2" fill="#eba15f" />
<rect x="211" y="876.9" width="23.5" height="5.9" fill="#7fd0f7" />
<rect x="115.8" y="893.3" width="12.7" height="6.3" fill="#eba15f" />
<rect x="133.9" y="893.3" width="18.8" height="6.3" fill="#eba15f" />
<path d="M115.8,954.4C119,951.4 126.5,941.9 131.6,939.1C136.6,936.4 136.3,943.5 141,940.8C145.7,938.1 149.4,927.6 155.1,925.5C160.7,923.4 164.5,928.9 169.1,930.2C173.8,931.5 173.8,930.6 178.5,932.1C183.2,933.7 187,937.2 192.6,938C198.3,938.7 201.6,937.9 206.7,935.9C211.9,933.8 214.3,931.5 218.5,927.9C222.7,924.2 224.6,919.9 227.9,917.5C231.2,915.2 232.3,918.8 234.9,916.1C237.5,913.5 239.6,906.7 240.8,904.4 L241.5,973.9 L115.8,973.9 Z" fill="#3f8fde" />
<path d="M115.8,954.4C119,951.4 126.5,941.9 131.6,939.1C136.6,936.4 136.3,943.5 141,940.8C145.7,938.1 149.4,927.6 155.1,925.5C160.7,923.4 164.5,928.9 169.1,930.2C173.8,931.5 173.8,930.6 178.5,932.1C183.2,933.7 187,937.2 192.6,938C198.3,938.7 201.6,937.9 206.7,935.9C211.9,933.8 214.3,931.5 218.5,927.9C222.7,924.2 224.6,919.9 227.9,917.5C231.2,915.2 233.5,916.4 234.9,916.1" fill="none" stroke="#e2a468" stroke-width="3.2" stroke-linecap="round"/>
<rect x="267.8" y="909.8" width="7.5" height="12.9" fill="#4a9fe8" />
<rect x="267.8" y="922.2" width="7.5" height="31" fill="#eba15f" />
<rect x="281.4" y="871" width="8" height="82.2" fill="#eba15f" />
<polygon points="304,875.7 304,868 318,850 328,846 340,853 348,849 362,838 371,828 376,875.7" fill="#5bb8f0" />
<rect x="304.7" y="884.6" width="32.3" height="4.7" fill="#4a9fe8" />
<rect x="2004.6" y="1063" width="182.4" height="26" fill="#f0965a" />
<rect x="2187" y="1063" width="629" height="26" fill="#d9773f" />
<rect x="2034.4" y="1089" width="29.6" height="361" fill="#1e2b4e" />
<rect x="2034.4" y="1106" width="12.6" height="344" fill="#56729a" />
<rect x="2185.8" y="1089" width="30.9" height="361" fill="#1e2b4e" />
<rect x="2185.8" y="1106" width="13.2" height="344" fill="#56729a" />
<polygon points="2467,1005 2533,1005 2537,1053 2459,1053" fill="#1c2b50" />
<path d="M2419.5,1062.6 q2,-10.6 12,-10.6 h121 q9,0 10.5,10.6 z" fill="#1c2b50" />
<rect x="2312.3" y="786.6" width="357.2" height="222.4" rx="9" fill="#22345d" />
<rect x="2325.7" y="795.3" width="335.6" height="199" fill="url(#gMon3)" />
<rect x="2339.7" y="815" width="46.2" height="10.9" fill="#5bb8f0" />
<rect x="2351.7" y="833" width="35.8" height="4" rx="1" fill="#6db5e8" />
<rect x="2341.6" y="845.8" width="40.4" height="4" rx="1" fill="#6db5e8" />
<rect x="2341.6" y="858.4" width="23.2" height="4" rx="1" fill="#6db5e8" />
<rect x="2352.5" y="871.2" width="31.4" height="4" rx="1" fill="#6db5e8" />
<rect x="2341.6" y="883.5" width="41" height="4" rx="1" fill="#6db5e8" />
<rect x="2341.6" y="896.4" width="21.3" height="4" rx="1" fill="#6db5e8" />
<rect x="2348.9" y="909.5" width="22.1" height="4" rx="1" fill="#6db5e8" />
<rect x="2352.5" y="922.6" width="31.4" height="4" rx="1" fill="#6db5e8" />
<rect x="2341" y="922.1" width="8.2" height="5" rx="1.5" fill="#eba15f" />
<rect x="2397.6" y="815" width="1.4" height="162.9" fill="#4a8fd6" />
<circle cx="2453.6" cy="855" r="31.2" fill="none" stroke="#5ab2ee" stroke-width="9.5" />
<path d="M2453.6,819 A36,36 0 0 1 2456.7,890.9 L2455.9,881.4 A26.5,26.5 0 0 0 2453.6,828.5 Z" fill="#f0a050" />
<rect x="2508.3" y="817.9" width="8.2" height="4" rx="2" fill="#6db5e8" />
<rect x="2519.2" y="817.9" width="10.9" height="4" rx="2" fill="#6db5e8" />
<rect x="2532.9" y="817.9" width="55.2" height="4" rx="2" fill="#6db5e8" />
<rect x="2594.4" y="817.9" width="10.4" height="4" rx="2" fill="#dca070" />
<rect x="2610.8" y="817.9" width="26" height="4" rx="2" fill="#6db5e8" />
<rect x="2520.6" y="828" width="41.8" height="4" rx="2" fill="#dca070" />
<rect x="2565.7" y="828" width="10.4" height="4" rx="2" fill="#dca070" />
<rect x="2582.6" y="828" width="39.9" height="4" rx="2" fill="#6db5e8" />
<rect x="2524.1" y="837.1" width="19.1" height="4" rx="2" fill="#6db5e8" />
<rect x="2550.9" y="837.1" width="43.5" height="4" rx="2" fill="#dca070" />
<rect x="2594.4" y="837.1" width="8.2" height="4" rx="2" fill="#6db5e8" />
<rect x="2609.9" y="837.1" width="22.1" height="4" rx="2" fill="#6db5e8" />
<rect x="2516.5" y="846.3" width="16.4" height="4" rx="2" fill="#6db5e8" />
<rect x="2539.7" y="846.3" width="20.5" height="4" rx="2" fill="#dca070" />
<rect x="2565.7" y="846.3" width="24.6" height="4" rx="2" fill="#6db5e8" />
<rect x="2595.7" y="846.3" width="18.6" height="4" rx="2" fill="#6db5e8" />
<rect x="2508.3" y="860.3" width="7.7" height="4" rx="2" fill="#dca070" />
<rect x="2519.7" y="860.3" width="10.9" height="4" rx="2" fill="#dca070" />
<rect x="2533.7" y="860.3" width="46.2" height="4" rx="2" fill="#6db5e8" />
<rect x="2520.6" y="870.1" width="40.2" height="4" rx="2" fill="#dca070" />
<rect x="2564.8" y="870.1" width="7.7" height="4" rx="2" fill="#dca070" />
<rect x="2578.8" y="870.1" width="21.9" height="4" rx="2" fill="#6db5e8" />
<rect x="2608.8" y="870.1" width="19.1" height="4" rx="2" fill="#6db5e8" />
<rect x="2631.3" y="870.1" width="5.5" height="4" rx="2" fill="#6db5e8" />
<rect x="2520.6" y="879.4" width="26" height="4" rx="2" fill="#6db5e8" />
<rect x="2553.4" y="879.4" width="49.2" height="4" rx="2" fill="#dca070" />
<rect x="2605.3" y="879.4" width="31.4" height="4" rx="2" fill="#6db5e8" />
<rect x="2519.7" y="888.7" width="17.2" height="4" rx="2" fill="#6db5e8" />
<rect x="2543.3" y="888.7" width="15.6" height="4" rx="2" fill="#dca070" />
<rect x="2562.4" y="888.7" width="25.7" height="4" rx="2" fill="#6db5e8" />
<rect x="2591.9" y="888.7" width="10.7" height="4" rx="2" fill="#dca070" />
<rect x="2607.2" y="888.7" width="12.6" height="4" rx="2" fill="#6db5e8" />
<rect x="2419.5" y="932" width="4.9" height="40.4" rx="1" fill="#6db5e8" />
<rect x="2431.7" y="947" width="5.5" height="25.4" rx="1" fill="#f0a050" />
<rect x="2443.5" y="921" width="6" height="51.4" rx="1" fill="#f0a050" />
<rect x="2443.5" y="921" width="6" height="6.8" rx="1" fill="#6db5e8" />
<rect x="2456.3" y="945.6" width="4.9" height="26.8" rx="1" fill="#6db5e8" />
<rect x="2468.1" y="929.2" width="6" height="43.2" rx="1" fill="#f0a050" />
<rect x="2480.4" y="913.4" width="5.5" height="59" rx="1" fill="#6db5e8" />
<rect x="2509.6" y="908.7" width="1.6" height="63.7" fill="#4a8fd6" />
<path d="M2512.4,948.9C2514.9,949.2 2522.6,949.3 2527.4,950.6C2532.2,951.8 2536.5,957.8 2541.1,956.6C2545.6,955.3 2550.6,947 2554.7,942.9C2558.8,938.8 2562,934 2565.7,932C2569.3,929.9 2572.5,929.7 2576.6,930.6C2580.7,931.5 2586.2,935.9 2590.3,937.4C2594.4,938.9 2597.1,941 2601.2,939.6C2605.3,938.3 2610.5,932.9 2614.9,929.2C2619.2,925.6 2623.3,920.1 2627.2,917.8C2631,915.4 2636.3,915.5 2638.1,915 L2638.1,971.9 L2512.4,971.9 Z" fill="#c47a38" />
<path d="M2512.4,952.5C2514.9,953.2 2522.6,955.4 2527.4,956.6C2532.2,957.7 2536.5,960.2 2541.1,959.3C2545.6,958.4 2550.6,954.5 2554.7,951.1C2558.8,947.7 2562,941 2565.7,938.8C2569.3,936.6 2572.5,937.1 2576.6,938C2580.7,938.9 2586.2,942.8 2590.3,944.3C2594.4,945.8 2597.1,947.2 2601.2,947C2605.3,946.8 2610.5,945 2614.9,942.9C2619.2,940.9 2623.3,937 2627.2,934.7C2631,932.4 2636.3,930.2 2638.1,929.2 L2638.1,971.9 L2512.4,971.9 Z" fill="#f9a043" />
<rect x="2685" y="786.6" width="155" height="222.4" rx="9" fill="#22345d" />
<rect x="2693.5" y="795.3" width="146.5" height="199" fill="url(#gMon4)" />
<rect x="2714.6" y="814.6" width="41" height="5.2" rx="2.6" fill="#e3a56e" />
<rect x="2732.4" y="826.6" width="35.5" height="5.2" rx="2.6" fill="#79c4f0" />
<rect x="2767.9" y="826.6" width="27.3" height="5.2" rx="2.6" fill="#e3a56e" />
<rect x="2740" y="838.6" width="53" height="5.2" rx="2.6" fill="#e3a56e" />
<rect x="2802.1" y="838.6" width="13.9" height="5.2" rx="2.6" fill="#79c4f0" />
<rect x="2726.4" y="863" width="34.7" height="5.2" rx="2.6" fill="#79c4f0" />
<rect x="2765.2" y="863" width="29.5" height="5.2" rx="2.6" fill="#79c4f0" />
<rect x="2799.3" y="863" width="16.7" height="5.2" rx="2.6" fill="#79c4f0" />
<rect x="2749.3" y="875" width="55.5" height="5.2" rx="2.6" fill="#e3a56e" />
<rect x="2810.3" y="875" width="5.7" height="5.2" rx="2.6" fill="#e3a56e" />
<rect x="2742.5" y="886.7" width="22.1" height="5.2" rx="2.6" fill="#e3a56e" />
<rect x="2771.2" y="886.7" width="34.4" height="5.2" rx="2.6" fill="#79c4f0" />
<rect x="2726.4" y="898.5" width="26.5" height="5.2" rx="2.6" fill="#79c4f0" />
<rect x="2726.9" y="910.8" width="26" height="5.2" rx="2.6" fill="#79c4f0" />
<rect x="2755.6" y="910.8" width="41" height="5.2" rx="2.6" fill="#e3a56e" />
<rect x="2796.6" y="910.8" width="19.4" height="5.2" rx="2.6" fill="#79c4f0" />
<rect x="2725.5" y="922.8" width="17.8" height="5.2" rx="2.6" fill="#79c4f0" />
<rect x="2728.3" y="934.8" width="30.1" height="5.2" rx="2.6" fill="#e3a56e" />
<rect x="2764.6" y="934.8" width="30.6" height="5.2" rx="2.6" fill="#79c4f0" />
<rect x="2802.1" y="934.8" width="8.2" height="5.2" rx="2.6" fill="#79c4f0" />
<rect x="2754.2" y="946.6" width="14.5" height="5.2" rx="2.6" fill="#79c4f0" />
<rect x="2774.7" y="946.6" width="41.3" height="5.2" rx="2.6" fill="#79c4f0" />
<rect x="2762.4" y="958.9" width="32.8" height="5.2" rx="2.6" fill="#e3a56e" />
<rect x="2805.6" y="958.9" width="10.4" height="5.2" rx="2.6" fill="#79c4f0" />
<rect x="2565.5" y="1270" width="33" height="21" fill="#1e2b4e" />
<rect x="2573.2" y="1291" width="17.6" height="43" fill="#9fc3ea" />
<rect x="2567" y="1333.5" width="30" height="66.5" fill="#1e2b4e" />
<path d="M2567,1388 L2470,1416 q-5,1.5 -5,7 v16 h13 v-10 L2576,1408 L2588,1408 L2681,1429 v10 h13 v-16 q0,-5.5 -5,-7 L2597,1388 Z" fill="#1e2b4e" />
<circle cx="2474" cy="1444.4" r="15" fill="#1e2b4e" />
<circle cx="2518" cy="1444.4" r="15" fill="#1e2b4e" />
<circle cx="2648" cy="1444.4" r="15" fill="#1e2b4e" />
<circle cx="2693" cy="1444.4" r="15" fill="#1e2b4e" />
<rect x="2512" y="1412" width="12" height="28" rx="5" fill="#1e2b4e" />
<rect x="2642" y="1412" width="12" height="28" rx="5" fill="#1e2b4e" />
<path d="M2549,1130 H2577 V1250.4 H2440 q-14,0 -14,-14 q0,-14 14,-14 H2549 Z" fill="url(#gSeat)" />
<path d="M2592,962 Q2594,953.8 2604,953.8 L2742,953.8 Q2756,955 2760,970 L2612,972 L2578,1152 L2577,1250 L2549,1250 L2549,1152 Z" fill="url(#gChairSide)" />
<path d="M2630,965.3 L2744,965.3 Q2760,965.3 2758,981 L2732,1135 L2727,1236 Q2724,1258.6 2703,1258.6 L2675,1258.6 Q2664,1258.6 2659,1268 Q2654,1276.3 2642,1276.3 L2540,1276.3 Q2515,1276 2505.5,1258 L2437,1258.6 Q2440,1249 2452,1249 L2562,1249 Q2571,1249 2572,1240 L2578,1150 L2613,982 Q2616,965.3 2630,965.3 Z" fill="#1e2b4e" />
<rect x="2429" y="1138.6" width="122" height="17.4" rx="8" fill="#1e2b4e" />
<polygon points="2447,1152 2465,1152 2514,1252 2496,1256" fill="#1e2b4e" />
<path d="M415,1160 L535,1150 Q585,1162 582,1215 L558,1410 L513,1410 L508,1262 L468,1262 L469,1404 L413,1404 Z" fill="#2e4d84" />
<path d="M413,1262 L468,1262 L469,1404 L413,1404 Z" fill="#294577" />
<rect x="568.5" y="1088.3" width="15" height="336.7" fill="#1e2b4e" />
<rect x="583.5" y="1088.3" width="15" height="336.7" fill="#1e2b4e" />
<rect x="583.5" y="1104" width="15" height="321" fill="#566f95" />
<rect x="683" y="1088.3" width="30" height="361.7" fill="#1e2b4e" />
<rect x="698" y="1104" width="15" height="346" fill="#566f95" />
<path d="M421,1403 L470,1403 Q497,1412 505.6,1428 L505.6,1441.7 L421,1441.7 Z" fill="#1c2847" />
<path d="M510.5,1410 L558,1410 Q600,1422 615,1438 L615,1449 L510.5,1449 Z" fill="#1c2847" />
<rect x="367.5" y="1270" width="33" height="21" fill="#1e2b4e" />
<rect x="375.2" y="1291" width="17.6" height="43" fill="#9fc3ea" />
<rect x="369" y="1333.5" width="30" height="66.5" fill="#1e2b4e" />
<path d="M369,1388 L272,1416 q-5,1.5 -5,7 v16 h13 v-10 L378,1408 L390,1408 L483,1429 v10 h13 v-16 q0,-5.5 -5,-7 L399,1388 Z" fill="#1e2b4e" />
<circle cx="276" cy="1444.4" r="15" fill="#1e2b4e" />
<circle cx="320" cy="1444.4" r="15" fill="#1e2b4e" />
<circle cx="450" cy="1444.4" r="15" fill="#1e2b4e" />
<circle cx="495" cy="1444.4" r="15" fill="#1e2b4e" />
<rect x="314" y="1412" width="12" height="28" rx="5" fill="#1e2b4e" />
<rect x="444" y="1412" width="12" height="28" rx="5" fill="#1e2b4e" />
<path d="M392,1130 H417 V1221.7 H522 q14,0 14,14 q0,14 -14,14 H392 Z" fill="url(#gSeat)" />
<path d="M294,958 C295,925 316,900 363,879 L368,866 L422,875 L429,889.5 C452,899 470,924 489.5,962.6 L523,1014 Q531,1024 541,1028 L595,1040 Q606,1046 604.5,1056 L602,1068.5 L505,1073 Q480,1073 468,1056 L462,1042 L459,1090 L457,1138 L472,1150 L395,1160 L300,1000 Z" fill="#a3c2e6" />
<path d="M434.8,987 L462,1041.5 L459,1090 L457,1138 L444,1138 Q450,1085 443,1030 Z" fill="#8eaedb" />
<path d="M400,800 L431.3,785.7 L436.2,779.6 Q440,783 442.2,788.1 L444.7,802.6 L449.5,822 Q450.5,834 450.1,845 Q449,852 445.9,857.3 Q443,861 438.6,863.3 Q433,865 426.5,865.8 L424.1,879 L372,868 L372,850 Z" fill="#a8623f" />
<path d="M364,866 Q398,866 422,875 L428,890 Q396,880 360,880 Z" fill="#dde9f6" />
<path d="M343.6,790.5C343.9,787.8 344.3,784.2 346,782C347.7,779.8 353.2,778.4 355.1,776C357,773.6 356.3,769.2 358.7,766.3C361.1,763.4 365.7,758.8 370.8,756.6C375.9,754.4 386.6,753.3 392.6,751.8C398.6,750.3 405.7,747.6 410.8,746.9C415.9,746.2 422.5,745.8 426.5,746.9C430.5,748 435.2,751.3 437.4,754.2C439.6,757.1 441.2,762.5 441,766.3C440.8,770.1 437.7,776.7 436.2,779.6C434.7,782.5 432.1,782.2 431.3,785.7C430.5,789.2 430.7,797.7 430.7,802.6C430.7,807.5 431.9,815.9 431.3,818.4C430.7,820.9 427.8,820.3 426.5,819.6C425.2,818.9 425.4,814.2 422.9,813.5C420.4,812.8 411.1,811.8 409.6,814.7C408.1,817.6 413.6,828.2 413.2,832.9C412.8,837.6 409.3,843.1 407.1,846.2C404.9,849.3 403.8,851.9 398.7,853.5C393.6,855.1 378.2,858.2 373.3,857.1C368.4,856 368.6,850.2 366,846.2C363.4,842.2 359,835.6 356.3,830.5C353.6,825.4 349.6,816.8 347.8,812.3C346,807.8 344.8,803.5 344.2,800.2C343.6,796.9 343.3,793.2 343.6,790.5Z" fill="#1c2b49" />
<path d="M409.6,816 Q412,809 418,809 Q424,810 424.5,816 Q424,822 419,826 Q415,829 413,833 Z" fill="#a8623f" />
<path d="M598.5,1046 Q612,1034 632,1036.5 Q650,1041 660,1063 L600,1065 Z" fill="#b5683f" />
<path d="M213.8,958 Q214,953 222,953 L366.5,953 Q377,955 381,966 L418,1118 L420,1222 L396,1222 L350,972 L215,972 Z" fill="url(#gChairSide)" />
<path d="M209,980 Q208,966.2 222,966.2 L340,966.2 Q356,966.2 360,982 L392,1120 L394,1236 Q394,1249 405,1249 L528,1249 Q538,1250 540,1258.6 L470,1258.6 Q462,1276 440,1276 L336,1276 Q318,1276 312,1264 Q308,1258.6 298,1258.6 L268,1258.6 Q240,1258.6 237,1236 L238,1140 Q236,1080 209,980 Z" fill="#1e2b4e" />
<rect x="418" y="1138.6" width="120" height="17.4" rx="8" fill="#1e2b4e" />
<polygon points="502,1152 520,1152 462,1256 444,1252" fill="#1e2b4e" />
<path d="M824,1008 L973,1008 L966,1120 L950,1354 L906,1354 L898,1130 L890,1090 L853,1346 L813,1343 Z" fill="#2f4c86" />
<path d="M824,1008 L905,1008 L880,1100 L848,1345 L813,1343 Z" fill="#22386a" />
<path d="M819,1344 L851,1346 Q862,1360 880,1366 L820,1372 Z" fill="#b5683f" />
<path d="M909,1354 L948,1354 Q962,1372 986,1380 L912,1384 Z" fill="#b5683f" />
<path d="M813,1366 Q818,1360 826,1362 Q852,1372 878,1366 Q890,1368 892.6,1376 Q880,1386 850,1388 L820,1390 Q812,1384 813,1366 Z" fill="#1c2847" />
<path d="M905.7,1376 Q908,1368 916,1370 Q950,1386 985,1382 Q1004,1384 1008.7,1392 Q996,1398 960,1399 L912,1399 Q905,1394 905.7,1376 Z" fill="#1c2847" />
<path d="M814,763 Q860,735 918.9,728.3 Q940,733 950,743 Q958,752 962,764 L982.7,802.7 L1006,842 Q1012,856 1007,871.5 Q1000,884 989,886 L963,881.3 L966.3,907.5 L972.9,956.6 L982.7,1005.8 Q976,1013 969.6,1014 Q900,1024 825.5,1017.2 L814,1012.3 L825.5,956.6 Q838,900 828.8,835.5 L815.7,776.5 Z" fill="#9c5a42" />
<path d="M925,809 L950,852 L966,902 L951,888 L943,858 Z" fill="#7e4532" />
<path d="M948,852 Q954,850 958,856 L970,872 Q968,878 960,878 L950,880 Q946,866 948,852 Z" fill="#e8906a" />
<path d="M915,650 L930,650 L943.7,638 L943.9,669 Q943,684 941,690 Q938,699 934,703.5 Q930,706.5 921.4,705.2 L912,700 Z" fill="#a8623f" />
<path d="M848.8,614.7C851.6,611.3 856.8,604.3 862.5,601C868.2,597.7 875.9,595.9 883,595C890.1,594.1 897.8,594.6 905.2,595.9C912.6,597.2 921.4,599.9 927.4,602.7C933.4,605.6 938,609.3 941.1,613C944.2,616.7 945.5,621.2 946.2,624.9C946.9,628.6 946.8,631.5 945.4,635.2C944,638.9 940.4,643.3 937.7,647.1C935,650.9 931.2,656.5 929.1,658.2C927,659.9 926.6,656.4 924.9,657.4C923.2,658.4 920,661.1 918.9,664.2C917.8,667.3 917.4,671.9 918,676.2C918.6,680.5 921.7,684.7 922.3,689.8C922.9,694.9 921.8,701.2 921.4,706.9C921,712.6 921,718.3 919.7,724C918.4,729.7 916.5,735.7 913.8,741.1C911.1,746.5 908.1,752 903.5,756.5C898.9,761 892.4,764.7 886.4,768.4C880.4,772.1 873.9,777.1 867.6,778.7C861.3,780.3 855.3,779.5 848.8,777.8C842.2,776.1 834.3,772.5 828.3,768.4C822.3,764.3 816.7,758.1 813,753C809.3,747.9 806.7,742.8 806.1,737.7C805.5,732.6 807.4,727.4 809.5,722.3C811.6,717.2 817.2,712.3 818.9,706.9C820.6,701.5 818.2,695.2 819.8,689.8C821.4,684.4 824.9,679.6 828.3,674.5C831.7,669.4 838,665.4 840.3,659.1C842.6,652.8 841.1,643.2 842,636.9C842.9,630.6 844.3,625.2 845.4,621.5C846.5,617.8 845.9,618.1 848.8,614.7Z" fill="#1c2b49" />
<path d="M1255.7,942.8 L1314,946 L1327,876 L1378,876 L1388,948 L1409.4,942.8 L1411,1058 L1406,1186 L1403,1263 L1369.4,1267.8 L1355,1154 L1342,1026 L1339,971.6 L1324.5,1026 L1300.5,1122 L1278,1218 L1265.3,1274.2 L1227.8,1269.4 L1234.9,1170 L1246,1090 Z" fill="#8f543d" />
<path d="M1339,971.6 L1342,1026 L1355,1154 L1360,1100 L1352,1000 Z" fill="#7d4633" />
<path d="M1231,1268 L1262,1273 L1259,1318 L1230,1318 Z" fill="#f59a75" />
<path d="M1221,1306 Q1222,1290 1229,1286 Q1232,1312 1242,1316 Q1252,1314 1257,1290 Q1261,1296 1260.5,1310 Q1258,1338 1236,1351 Q1220,1336 1221,1306 Z" fill="#1c2b52" />
<path d="M1372,1266 L1402,1262 Q1412,1296 1446,1330 L1420,1330 Q1385,1300 1372,1266 Z" fill="#f59a75" />
<path d="M1361,1290 Q1362,1274 1372,1268 Q1384,1306 1418,1322 Q1440,1324 1446,1336 Q1440,1341 1420,1340 Q1390,1338 1378,1308 L1376,1334 L1370,1334 Z" fill="#1c2b52" />
<path d="M1300,682 L1316,668 L1350,668 L1364,682 L1376,880 L1328,880 Z" fill="#fbfcfe" />
<rect x="1330" y="874" width="45" height="9" fill="#7a4230" />
<path d="M1311,655 L1350.6,640 L1350.6,671 L1346.6,714 L1311.4,668 Z" fill="#f29977" />
<path d="M1311.4,665.3 Q1326,664 1335.7,658.5 Q1343,653 1346.6,647.7 Q1346,660 1338,669 Q1330,677 1319,679 Z" fill="#e07c5c" />
<path d="M1304.6,670.7 L1311.4,665.3 L1346.6,714 L1330,700 L1316.8,719.4 L1299.2,677.4 Z" fill="#fbfcfe" />
<path d="M1352,666.6 L1358.7,678.8 L1365.5,708.5 L1354,696 L1346.6,714 L1350.6,671 Z" fill="#fbfcfe" />
<path d="M1316,703 L1327,694 L1318,710 Z" fill="#d5dbe6" />
<path d="M1354,693 L1362,703 L1358,692 Z" fill="#d5dbe6" />
<path d="M1298,679 L1249,700.5 Q1238,712 1232.6,743 L1213,818.4 L1209.7,841.3 Q1212,856 1226,856 L1268.6,850 L1247.3,941.2 L1317.7,949.4 L1330.8,874 L1330.8,789 L1318,745 Z" fill="#283f73" />
<path d="M1299.2,677.4 L1287,686.9 L1293,700 L1303,722 L1330.8,789 L1316.8,719.4 Z" fill="#3b5c9a" />
<path d="M1363.6,680.8 L1399.6,694 Q1440,725 1475,757.8 L1542,712 L1548.6,710.3 L1561.7,731.6 L1558.4,736.5 L1491.3,798.7 Q1482,806 1471.7,803.6 L1419.3,782.4 L1406,867.5 L1416,941.2 L1386.5,946 L1373.4,874 L1373.4,790 L1368,704 Z" fill="#283f73" />
<path d="M1360,680.1 L1375,686.9 L1381.7,704.5 L1376.3,715.3 L1373.4,790 L1365.5,708.5 Z" fill="#3b5c9a" />
<path d="M1542,712 L1549,707 L1563,729 L1558.4,736.5 Z" fill="#f4f7fb" />
<path d="M1550,706 Q1560,690 1572,680 L1574,668 Q1578,664 1581,670 L1582,688 Q1600,676 1612,674 Q1619,676 1617,684 Q1608,700 1588,716 Q1574,724 1563,728 Z" fill="#f59a75" />
<path d="M1352,741.4 L1424,741.4 Q1429,741.4 1427.4,747 L1401,842 Q1399.6,846.2 1395,846.2 L1325,846.2 Q1320,846.2 1322,840 L1347,746 Q1348.5,741.4 1352,741.4 Z" fill="#8fa9c8" />
<path d="M1355,744.5 L1424,744.5 Q1428,744.5 1426.5,749 L1401,842 Q1399.6,846.2 1395,846.2 L1329,846.2 Q1324,846.2 1326,840 L1350,749 Q1351.5,744.5 1355,744.5 Z" fill="#7b93b0" />
<circle cx="1358.5" cy="751.5" r="2.2" fill="#2a3d63" />
<path d="M1226,856 L1209.7,841.3 L1213,818.4 L1296,806 L1300,838 Z" fill="#283f73" />
<path d="M1295,812 L1307,810 L1311,838 L1299,841 Z" fill="#f4f7fb" />
<path d="M1306,812 Q1320,798 1336,795 L1364,795 Q1372,800 1366,808 Q1362,820 1340,828 L1311,836 Z" fill="#f59a75" />
<path d="M1268,786 L1274,812 L1256,813 Z" fill="#e6eef9" />
<path d="M1288.4,605.7 L1289,590 L1304.6,576 L1345,612 L1350.6,635.5 Q1349,642 1346.6,647.7 Q1342,654 1335.7,658.5 Q1330,662 1323.6,664.6 Q1317,666 1311.4,665.3 Q1305,662 1300.6,657.1 Q1296,651 1292.5,643.6 Q1289,634 1288.4,624.7 Z" fill="#f29977" />
<circle cx="1366.8" cy="569.2" r="19.6" fill="#1c2b49" />
<path d="M1287.7,607 Q1283,598 1284.3,590.9 Q1286,580 1291.1,573.3 Q1297,565 1306,559.8 Q1315,555.5 1324.9,554.3 Q1336,553.5 1350,556 L1377.7,588.2 Q1374,594 1372.9,600.3 Q1373,607 1372.3,613.9 Q1370.5,622 1366.8,628.7 Q1363,635 1358.7,639.6 Q1355.5,642.5 1352,644.3 L1350.6,632 L1345.2,615.2 Q1341,609.5 1335.7,605.7 Q1327,600.5 1318.2,596.3 Q1310,589 1304.6,580 Q1300,582.5 1296.5,586.8 Q1292,593 1289.1,600.3 Z" fill="#1c2b49" />
<circle cx="1354.7" cy="620.5" r="7.6" fill="#f29977" />
</svg>
</body></html>
